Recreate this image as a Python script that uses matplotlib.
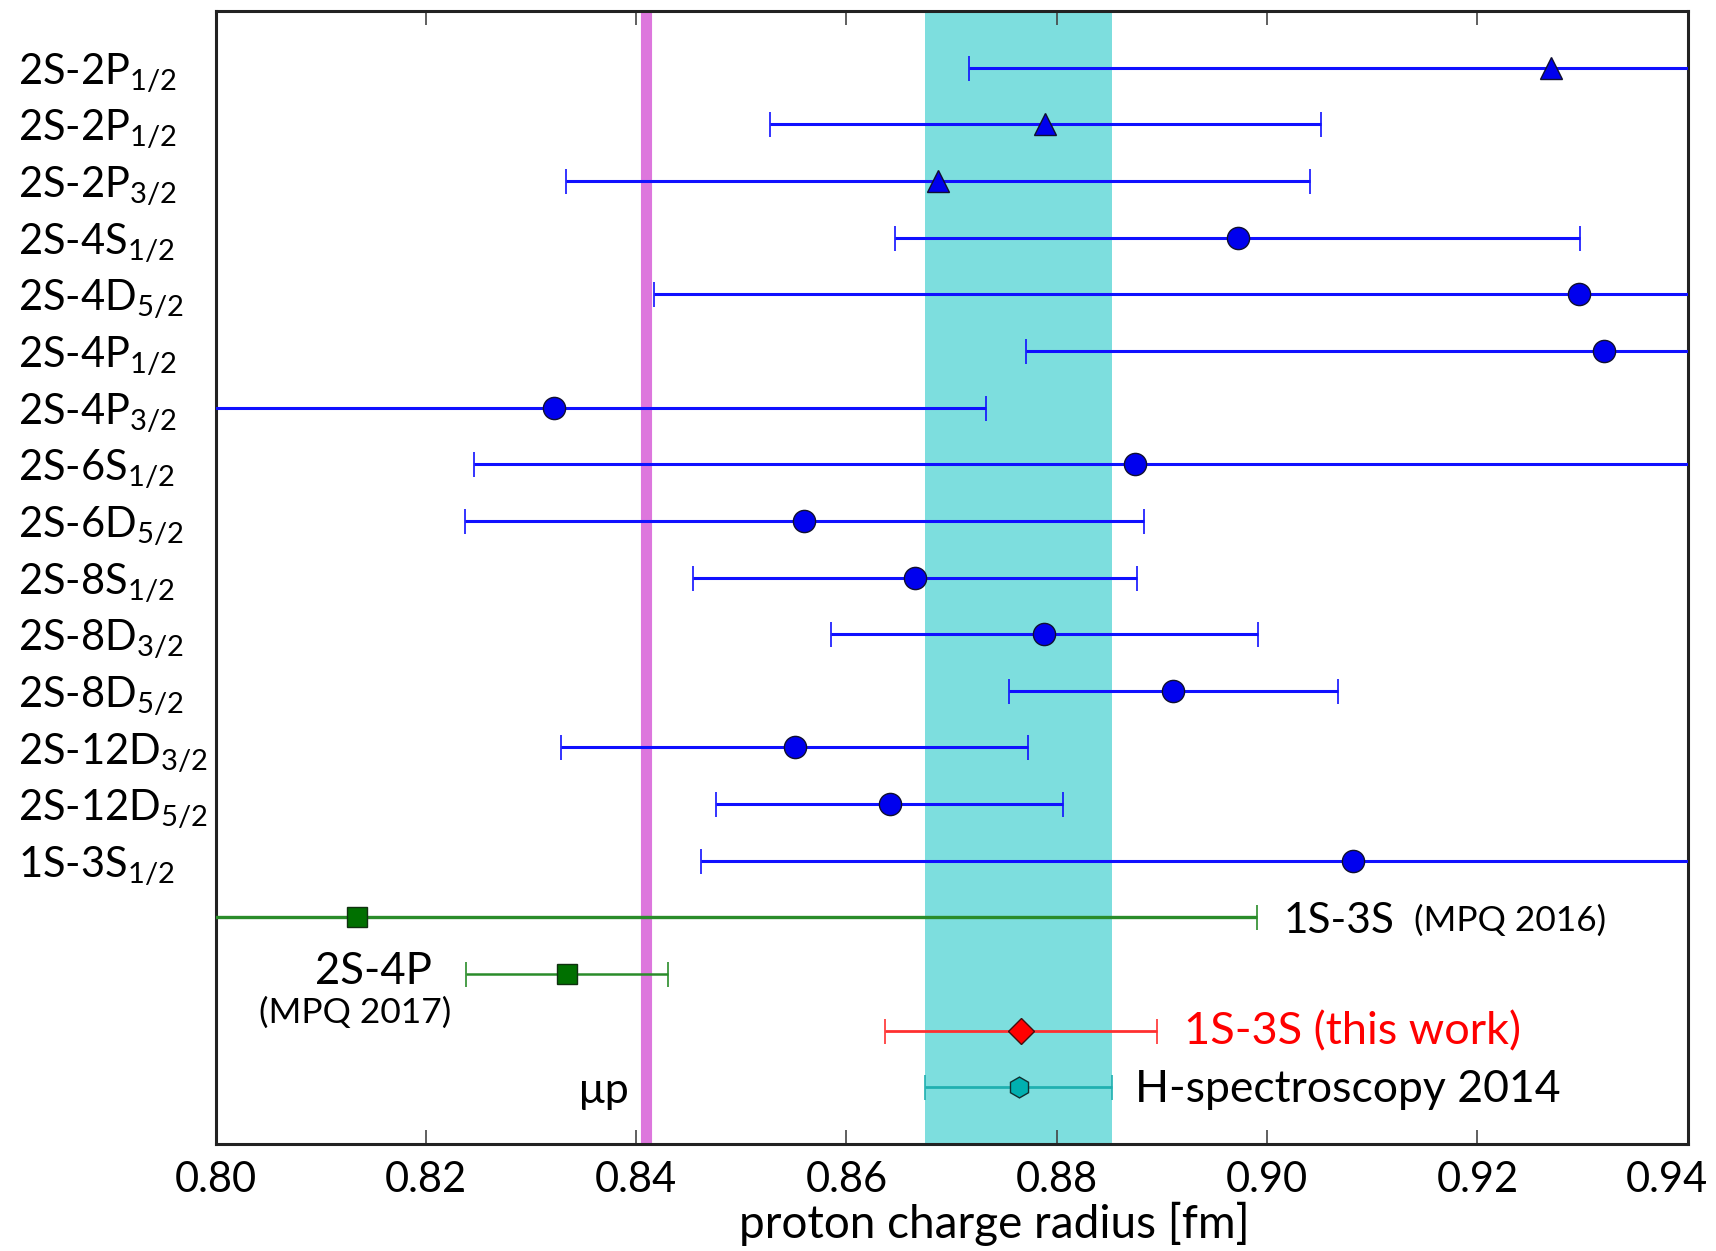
import numpy as np
import matplotlib
matplotlib.use('Agg')
import matplotlib.pyplot as plt
import matplotlib.transforms as mtransforms

plt.rcParams['font.family'] = ['Lato', 'DejaVu Sans']
plt.rcParams['mathtext.fontset'] = 'custom'
plt.rcParams['mathtext.rm'] = 'Lato'
plt.rcParams['mathtext.default'] = 'regular'

# transitions (top to bottom)
labels = [r'2S-2P$_{1/2}$', r'2S-2P$_{1/2}$', r'2S-2P$_{3/2}$', r'2S-4S$_{1/2}$',
          r'2S-4D$_{5/2}$', r'2S-4P$_{1/2}$', r'2S-4P$_{3/2}$', r'2S-6S$_{1/2}$',
          r'2S-6D$_{5/2}$', r'2S-8S$_{1/2}$', r'2S-8D$_{3/2}$', r'2S-8D$_{5/2}$',
          r'2S-12D$_{3/2}$', r'2S-12D$_{5/2}$', r'1S-3S$_{1/2}$']
markers = ['^', '^', '^'] + ['o'] * 12
rp = [0.9270, 0.8789, 0.8687, 0.8972, 0.9297, 0.9320, 0.8322, 0.8874,
      0.8560, 0.8665, 0.8788, 0.8911, 0.8551, 0.8641, 0.9082]
err = [0.0553, 0.0262, 0.0354, 0.0326, 0.0880, 0.0549, 0.0411, 0.0628,
       0.0323, 0.0211, 0.0203, 0.0156, 0.0222, 0.0165, 0.0620]

# MPQ results
mpq_rp = [0.8135, 0.8334]
mpq_err = [0.0855, 0.0096]

# this work, H-spectroscopy 2014 (CODATA)
this_rp, this_err = 0.8766, 0.0129
hspec_rp, hspec_err = 0.8764, 0.0089
mup = 0.8409

xticks = [0.80, 0.82, 0.84, 0.86, 0.88, 0.90, 0.92, 0.94]

fig = plt.figure(figsize=(17.16, 12.51), dpi=100)
ax = fig.add_axes([0.1256, 0.0855, 0.8579, 0.9057])

ax.axvspan(hspec_rp - hspec_err, hspec_rp + hspec_err, color='#7ddede', lw=0, zorder=0)
ax.axvline(mup, color='#dd77dd', lw=8, zorder=1)

rows = np.arange(1, len(rp) + 1)
for y, x, e, m in zip(rows, rp, err, markers):
    ax.errorbar(x, y, xerr=e, fmt=m, color='#1010ff', mfc='#0000ee', mec='#101030',
                ms=16, elinewidth=2.2, capsize=9, capthick=1.2, zorder=3)

for y, x, e, lw in zip([16, 17], mpq_rp, mpq_err, [2.4, 1.8]):
    ax.errorbar(x, y, xerr=e, fmt='s', color='#2a8c2a', mfc='#007000', mec='#103010',
                ms=15, elinewidth=lw, capsize=9, capthick=1.2, zorder=3)

ax.errorbar(this_rp, 18, xerr=this_err, fmt='D', color='#ff3030', mfc='#ff0000',
            mec='#401010', ms=13, elinewidth=2, capsize=9, capthick=1.2, zorder=3)
ax.errorbar(hspec_rp, 19, xerr=hspec_err, fmt='h', color='#20b0b0', mfc='#00b0b0',
            mec='#103030', ms=15, elinewidth=2, capsize=9, capthick=1.2, zorder=3)

# annotations
ax.text(0.9016, 16.06, '1S-3S', fontsize=30.5, va='center', ha='left')
ax.text(0.9140, 16.06, '(MPQ 2016)', fontsize=25.5, va='center', ha='left')
ax.text(0.8206, 16.95, '2S-4P', fontsize=31.5, va='center', ha='right')
ax.text(0.8133, 17.68, '(MPQ 2017)', fontsize=25.5, va='center', ha='center')
ax.text(0.8393, 19.07, 'μp', fontsize=31, va='center', ha='right')
ax.text(0.8921, 18.02, '1S-3S (this work)', fontsize=32.5, va='center', ha='left', color='red')
ax.text(0.8874, 19.04, 'H-spectroscopy 2014', fontsize=32, va='center', ha='left')

ax.set_xlim(0.80, 0.94)
ax.set_ylim(20, 0)
ax.set_xticks(xticks)
ax.set_xticklabels(['%.2f' % v for v in xticks])
ax.set_yticks(rows)
ax.set_yticklabels(labels, ha='left')
ax.tick_params(axis='x', direction='in', top=True, length=10, width=1.2,
               labelsize=30, pad=12, color='#444444')
ax.tick_params(axis='y', length=0, labelsize=30, pad=142)
ax.set_xlabel('proton charge radius [fm]', fontsize=33, labelpad=2, x=0.529)
for s in ax.spines.values():
    s.set_linewidth(2.2)
    s.set_color('#222222')

# last tick label pulled left so it stays inside the figure
last = ax.get_xticklabels()[-1]
last.set_transform(last.get_transform() +
                   mtransforms.ScaledTranslation(-0.21, 0, fig.dpi_scale_trans))

plt.savefig('out.png', dpi=100)
